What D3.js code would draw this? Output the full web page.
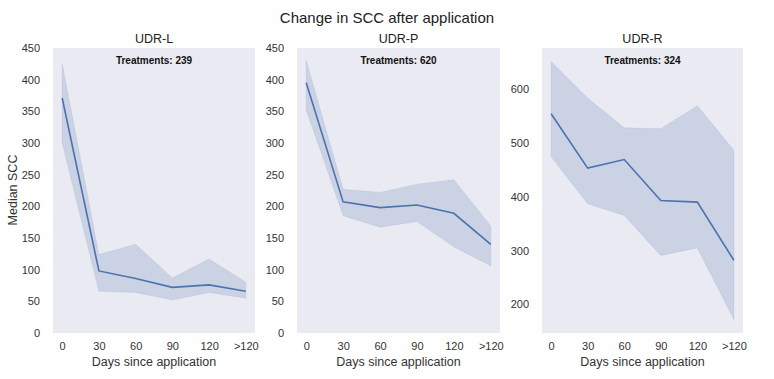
<!DOCTYPE html>
<html><head><meta charset="utf-8">
<script src="https://cdn.jsdelivr.net/npm/d3@7"></script>
<style>body{margin:0;background:#fff;}svg{display:block;font-family:"Liberation Sans",Arial,sans-serif;}</style>
</head><body>
<svg id="c" width="774" height="379"></svg>
<script>
const categories = ["0","30","60","90","120",">120"];
const panelTitles = ["UDR-L","UDR-P","UDR-R"];
const treatments = [239, 620, 324];
const medianL = [371, 98, 86, 72, 76, 66];
const upperL  = [425, 124, 140, 87, 117, 80];
const lowerL  = [300, 66, 64, 52, 64, 55];
const medianP = [395, 207, 198, 202, 189, 140];
const upperP  = [430, 227, 222, 235, 242, 169];
const lowerP  = [352, 185, 167, 176, 136, 106];
const medianR = [554, 453, 469, 393, 390, 282];
const upperR  = [651, 583, 528, 526, 569, 486];
const lowerR  = [474, 387, 365, 291, 305, 172];
const yTicksLP = [0,50,100,150,200,250,300,350,400,450];
const yTicksR = [200,300,400,500,600];

const panels = [
  {median:medianL, upper:upperL, lower:lowerL, domain:[0,450], ticks:yTicksLP, x0:53, x1:255},
  {median:medianP, upper:upperP, lower:lowerP, domain:[0,450], ticks:yTicksLP, x0:297, x1:500},
  {median:medianR, upper:upperR, lower:lowerR, domain:[147,676], ticks:yTicksR, x0:542, x1:743}
];
const plotTop = 48, plotBottom = 333;
const svg = d3.select("#c");
const col = "#4c72b0";

svg.append("text").attr("x",387).attr("y",23).attr("text-anchor","middle")
  .attr("font-size",15).attr("fill","#222").text("Change in SCC after application");

panels.forEach((p,i)=>{
  const x = d3.scalePoint().domain(categories).range([p.x0,p.x1]).padding(0.25);
  const y = d3.scaleLinear().domain(p.domain).range([plotBottom,plotTop]);
  const g = svg.append("g");
  g.append("rect").attr("x",p.x0).attr("y",plotTop).attr("width",p.x1-p.x0).attr("height",plotBottom-plotTop).attr("fill","#eaeaf2");
  const area = d3.area().x((d,j)=>x(categories[j])).y0((d,j)=>y(p.lower[j])).y1((d,j)=>y(p.upper[j]));
  g.append("path").datum(p.median).attr("d",area).attr("fill",col).attr("fill-opacity",0.2)
    .attr("stroke",col).attr("stroke-opacity",0.1);
  const line = d3.line().x((d,j)=>x(categories[j])).y(d=>y(d));
  g.append("path").datum(p.median).attr("d",line).attr("fill","none").attr("stroke",col).attr("stroke-width",1.6);
  const xa = g.append("g").attr("transform",`translate(0,${plotBottom})`).call(d3.axisBottom(x).tickSize(0).tickPadding(9));
  const ya = g.append("g").attr("transform",`translate(${p.x0},0)`).call(d3.axisLeft(y).tickValues(p.ticks).tickSize(0).tickPadding(13));
  [xa,ya].forEach(a=>{a.select(".domain").remove(); a.selectAll("text").attr("font-size",11).attr("fill","#333").attr("font-family","'Liberation Sans',Arial,sans-serif");});
  g.append("text").attr("x",(p.x0+p.x1)/2).attr("y",43).attr("text-anchor","middle").attr("font-size",12.5).attr("fill","#222").text(panelTitles[i]);
  g.append("text").attr("x",(p.x0+p.x1)/2).attr("y",64).attr("text-anchor","middle").attr("font-size",10).attr("font-weight","bold").attr("fill","#111").text("Treatments: "+treatments[i]);
  g.append("text").attr("x",(p.x0+p.x1)/2).attr("y",366).attr("text-anchor","middle").attr("font-size",12.5).attr("fill","#333").text("Days since application");
});
svg.append("text").attr("transform","translate(17,190) rotate(-90)").attr("text-anchor","middle").attr("font-size",12.5).attr("fill","#333").text("Median SCC");
</script>
</body></html>
